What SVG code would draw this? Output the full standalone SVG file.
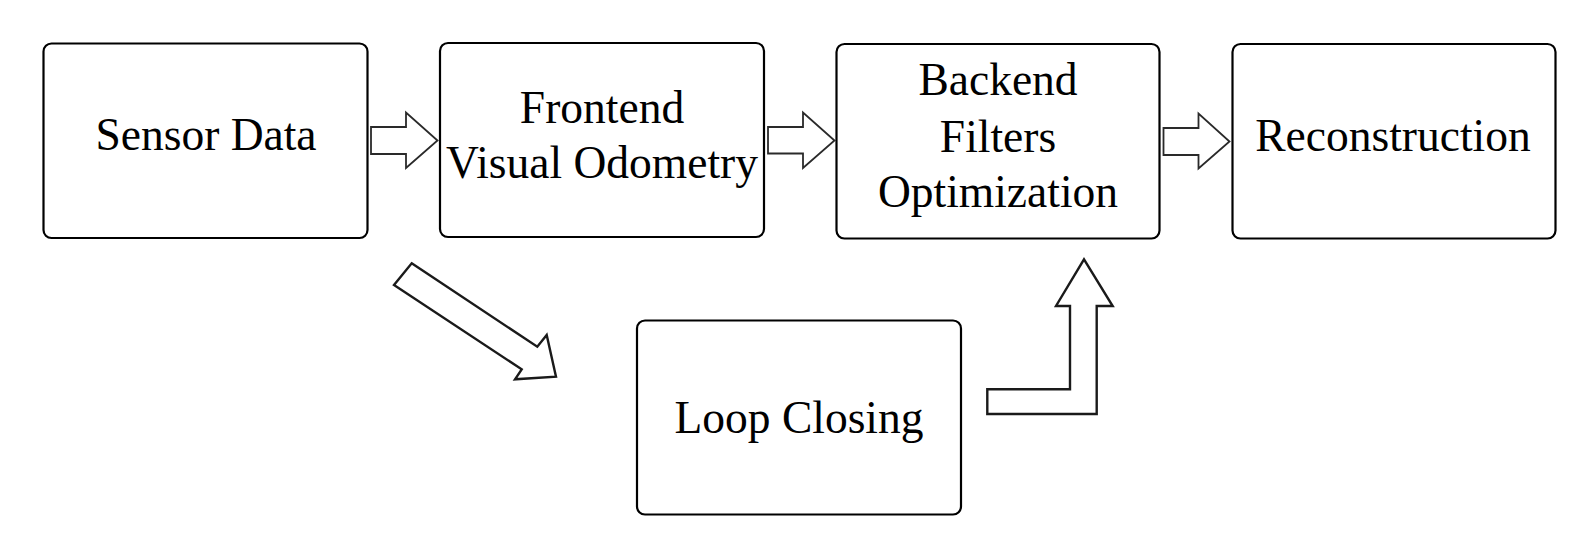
<svg xmlns="http://www.w3.org/2000/svg" width="1588" height="554" viewBox="0 0 1588 554">
<style>
.box{fill:#fff;stroke:#000;stroke-width:2.2}
.lbl{font-family:"Liberation Serif","Times New Roman",serif;font-size:45.5px;fill:#000;text-anchor:middle}
.arr{fill:#fff;stroke:#2a2a2a;stroke-width:1.8;stroke-linejoin:miter}
.arr2{fill:#fff;stroke:#1a1a1a;stroke-width:2.4;stroke-linejoin:miter}
</style>
<rect width="1588" height="554" fill="#fff"/>
<g id="connectors">
<polygon class="arr" points="371,127 406,127 406,112.5 437.5,140.5 406,168 406,154 371,154"/>
<polygon class="arr" points="768,127 803,127 803,112.5 834.5,140.5 803,168 803,153.5 768,153.5"/>
<polygon class="arr" points="1163.5,128 1198.5,128 1198.5,113.5 1229.5,141.5 1198.5,168.5 1198.5,155 1163.5,155"/>
<polygon class="arr2" points="411.7,263.3 537.3,346.7 546.7,335 556,376.7 515,379.3 521.7,369.3 394,285"/>
<polygon class="arr2" points="987.3,389.3 1070,389.3 1070,306 1056,306 1084,259.3 1112.7,306 1096.7,306 1096.7,414 987.3,414"/>
</g>
<g id="sensor-data">
<rect class="box" x="43.5" y="43.5" width="324" height="194.5" rx="8"/>
<text class="lbl" x="206" y="150">Sensor Data</text>
</g>
<g id="frontend">
<rect class="box" x="440" y="43" width="324" height="194" rx="8"/>
<text class="lbl" x="602" y="122.7">Frontend</text>
<text class="lbl" x="602" y="177.7">Visual Odometry</text>
</g>
<g id="backend">
<rect class="box" x="836.5" y="44" width="323" height="194.5" rx="8"/>
<text class="lbl" x="998" y="95">Backend</text>
<text class="lbl" x="998" y="151.7">Filters</text>
<text class="lbl" x="998" y="206.7">Optimization</text>
</g>
<g id="reconstruction">
<rect class="box" x="1232.5" y="44" width="323" height="194.5" rx="8"/>
<text class="lbl" x="1393" y="150.7">Reconstruction</text>
</g>
<g id="loop-closing">
<rect class="box" x="637" y="320.5" width="324" height="194" rx="8"/>
<text class="lbl" x="799" y="433.3">Loop Closing</text>
</g>
</svg>
